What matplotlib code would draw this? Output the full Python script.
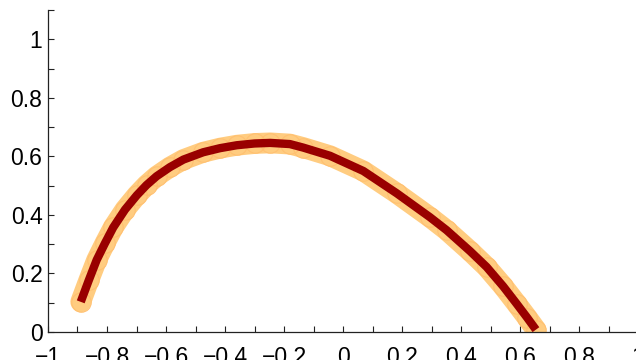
import matplotlib
matplotlib.use("Agg")
import matplotlib.pyplot as plt
from matplotlib.ticker import MultipleLocator

# Trajectory
x_vals = [-0.889, -0.862, -0.835, -0.807, -0.779, -0.739, -0.699, -0.666,
          -0.632, -0.587, -0.541, -0.474, -0.417, -0.360, -0.300, -0.247,
          -0.180, -0.135, -0.044, 0.069, 0.182, 0.295, 0.351, 0.431,
          0.487, 0.543, 0.589, 0.625, 0.654]
y_vals = [0.103, 0.176, 0.246, 0.303, 0.357, 0.418, 0.467, 0.502,
          0.532, 0.563, 0.589, 0.614, 0.628, 0.638, 0.644, 0.646,
          0.642, 0.630, 0.602, 0.550, 0.474, 0.392, 0.348, 0.276,
          0.222, 0.156, 0.096, 0.048, 0.008]

x_ticks = [-1, -0.8, -0.6, -0.4, -0.2, 0, 0.2, 0.4, 0.6, 0.8, 1]
y_ticks = [0, 0.2, 0.4, 0.6, 0.8, 1]

plt.rcParams['font.family'] = ['Liberation Sans', 'DejaVu Sans']

fig = plt.figure(figsize=(6.36, 3.6), dpi=100)
ax = fig.add_axes([48/636, 28/360, 590/636, 322/360])

orange = '#FFCC80'
red = '#990000'

ax.plot(x_vals, y_vals, color=orange, lw=15, solid_capstyle='round',
        solid_joinstyle='round', zorder=2)
ax.plot(x_vals, y_vals, linestyle='none', marker='o', ms=14,
        mfc='none', mec='#FFC070', mew=0.8, zorder=2.5)
ax.plot(x_vals, y_vals, color=red, lw=6, solid_capstyle='butt',
        solid_joinstyle='round', zorder=3)

ax.set_xlim(-1, 1)
ax.set_ylim(0, 1.1)
ax.set_xticks(x_ticks)
ax.set_yticks(y_ticks)
ax.set_xticklabels(['\u22121', '\u22120.8', '\u22120.6', '\u22120.4', '\u22120.2',
                    '0', '0.2', '0.4', '0.6', '0.8', '1'])
ax.set_yticklabels(['0', '0.2', '0.4', '0.6', '0.8', '1'])
ax.xaxis.set_minor_locator(MultipleLocator(0.1))
ax.yaxis.set_minor_locator(MultipleLocator(0.1))

for s in ['top', 'right']:
    ax.spines[s].set_visible(False)
for s in ['left', 'bottom']:
    ax.spines[s].set_linewidth(0.9)
    ax.spines[s].set_color('#222222')

ax.tick_params(which='both', direction='in', length=4, width=0.8, color='#222222')
ax.tick_params(axis='x', which='major', pad=10, labelsize=16.5)
ax.tick_params(axis='y', which='major', pad=4, labelsize=16.5)

fig.savefig('out.png', dpi=100)
